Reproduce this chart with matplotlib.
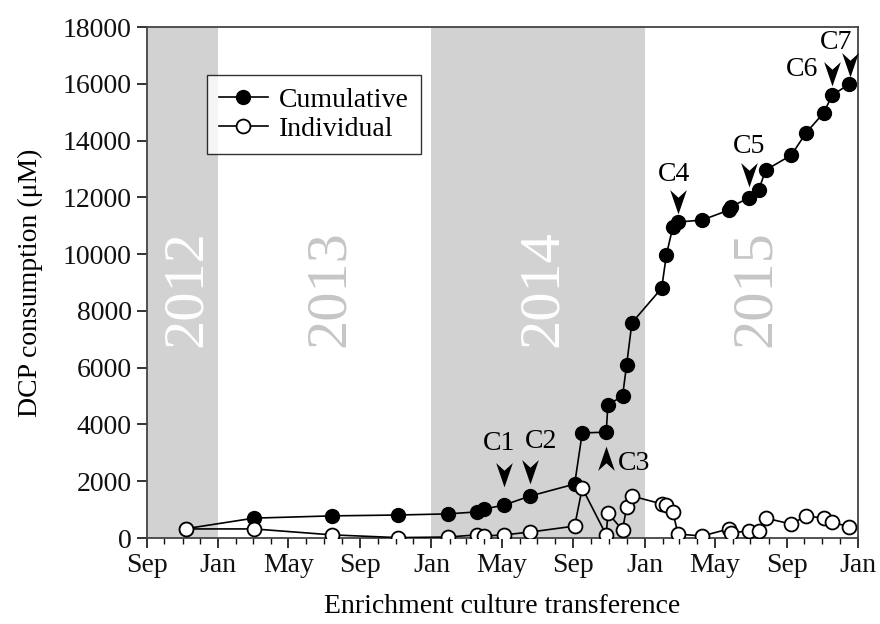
import matplotlib
matplotlib.use("Agg")
import matplotlib.pyplot as plt
import matplotlib.dates as mdates
from matplotlib.path import Path
from matplotlib.transforms import offset_copy
import pandas as pd

plt.rcParams['font.family'] = ['Liberation Serif', 'DejaVu Serif']

# Transfer dates of the enrichment culture
dates = ["2012-11-07", "2013-03-03", "2013-07-15", "2013-11-04", "2014-01-29",
         "2014-03-20", "2014-04-01", "2014-05-05", "2014-06-19", "2014-09-03",
         "2014-09-16", "2014-10-27", "2014-10-30", "2014-11-24", "2014-12-01",
         "2014-12-10", "2015-01-30", "2015-02-07", "2015-02-18", "2015-02-27",
         "2015-04-09", "2015-05-25", "2015-05-28", "2015-06-28", "2015-07-15",
         "2015-07-27", "2015-09-09", "2015-10-04", "2015-11-03", "2015-11-18",
         "2015-12-17"]

# DCP consumption (uM)
cumulative = [330, 700, 780, 810, 850, 920, 1020, 1160, 1480, 1900,
              3700, 3730, 4690, 5000, 6100, 7580, 8800, 9970, 10950, 11130,
              11200, 11550, 11660, 11980, 12260, 12960, 13490, 14270, 14970, 15600,
              15990]
individual = [320, 320, 110, 15, 35, 110, 70, 110, 210, 420,
              1760, 110, 880, 280, 1090, 1480, 1200, 1160, 920, 140,
              70, 320, 180, 250, 250, 700, 490, 780, 700, 560,
              390]

years = ["2012", "2013", "2014", "2015"]
shaded_years = ["2012", "2014"]

# Transfer labels: (label, index of the transfer in the series, arrow direction)
transfers = [("C1", 7, "down"), ("C2", 8, "down"), ("C3", 11, "up"),
             ("C4", 19, "down"), ("C5", 23, "down"), ("C6", 29, "down"),
             ("C7", 30, "down")]

x = pd.to_datetime(dates)
start = pd.Timestamp("2012-09-01")
end = pd.Timestamp("2016-01-01")

fig = plt.figure(figsize=(8.8, 6.24), dpi=100)
ax = fig.add_axes([0.167, 0.1378, 0.808, 0.8189])

# Year bands
for yr in years:
    lo = max(pd.Timestamp(f"{yr}-01-01"), start)
    hi = pd.Timestamp(f"{int(yr) + 1}-01-01")
    if yr in shaded_years:
        ax.axvspan(lo, hi, color="#d2d2d2", lw=0, zorder=0)
    mid = lo + (hi - lo) / 2 + pd.Timedelta(days=8)
    ax.text(mid, 8800, yr, rotation=90, ha="center", va="center",
            fontsize=42, color="white" if yr in shaded_years else "#c6c6c6",
            zorder=1)

ax.plot(x, cumulative, "-o", color="black", lw=1.2, ms=10,
        mfc="black", mec="black", label="Cumulative", zorder=3)
ax.plot(x, individual, "-o", color="black", lw=1.2, ms=10,
        mfc="white", mec="black", mew=1.3, label="Individual", zorder=4)

# Notched arrowhead marker
arrow_down = Path([(0, -1), (-0.6, 0.75), (0, 0.2), (0.6, 0.75), (0, -1)],
                  [Path.MOVETO, Path.LINETO, Path.LINETO, Path.LINETO, Path.CLOSEPOLY])
arrow_up = Path([(0, 1), (-0.6, -0.75), (0, -0.2), (0.6, -0.75), (0, 1)],
                [Path.MOVETO, Path.LINETO, Path.LINETO, Path.LINETO, Path.CLOSEPOLY])

arrow_offsets = {"C1": (0, 32), "C2": (0, 26), "C3": (0, -28), "C4": (0, 22),
                 "C5": (0, 25), "C6": (0, 23), "C7": (1, 21)}
text_offsets = {"C1": (-5, 30), "C2": (11, 28), "C3": (28, -3), "C4": (-4, 26),
                "C5": (0, 26), "C6": (-30, 3), "C7": (-14, 21)}

for label, i, direction in transfers:
    ax_, ay_ = arrow_offsets[label]
    tr = offset_copy(ax.transData, fig=fig, x=ax_, y=ay_, units="dots")
    ax.plot([x[i]], [cumulative[i]], marker=arrow_down if direction == "down" else arrow_up,
            ms=20, color="black", mew=0, transform=tr, zorder=5)
    tx, ty = text_offsets[label]
    ax.annotate(label, (x[i], cumulative[i]), xytext=(ax_ + tx, ay_ + ty),
                textcoords="offset pixels", ha="center", va="center",
                fontsize=20, zorder=5)

ax.set_xlim(start, end)
ax.set_ylim(0, 18000)
ax.set_yticks(range(0, 18001, 2000))
ax.xaxis.set_major_locator(mdates.MonthLocator(bymonth=[1, 5, 9]))
ax.xaxis.set_major_formatter(mdates.DateFormatter("%b"))
ax.xaxis.set_minor_locator(mdates.MonthLocator())

ax.tick_params(axis="both", which="major", direction="out", length=7, width=1.2,
               labelsize=20, colors="#111111", pad=4)
ax.tick_params(axis="x", which="minor", direction="out", length=4, width=1.0,
               colors="#111111")
for s in ax.spines.values():
    s.set_color("#444444")
    s.set_linewidth(1.3)

ax.set_xlabel("Enrichment culture transference", fontsize=20, labelpad=11)
ax.set_ylabel("DCP consumption (μM)", fontsize=20, labelpad=14)

leg = ax.legend(loc="upper left", bbox_to_anchor=(0.084, 0.906), borderaxespad=0,
                fontsize=20, frameon=True, fancybox=False, handlelength=1.75,
                handletextpad=0.4, borderpad=0.45, labelspacing=0.12)
leg.get_frame().set_edgecolor("black")
leg.get_frame().set_linewidth(1.0)
leg.set_zorder(6)

fig.savefig("out.png", dpi=100)
